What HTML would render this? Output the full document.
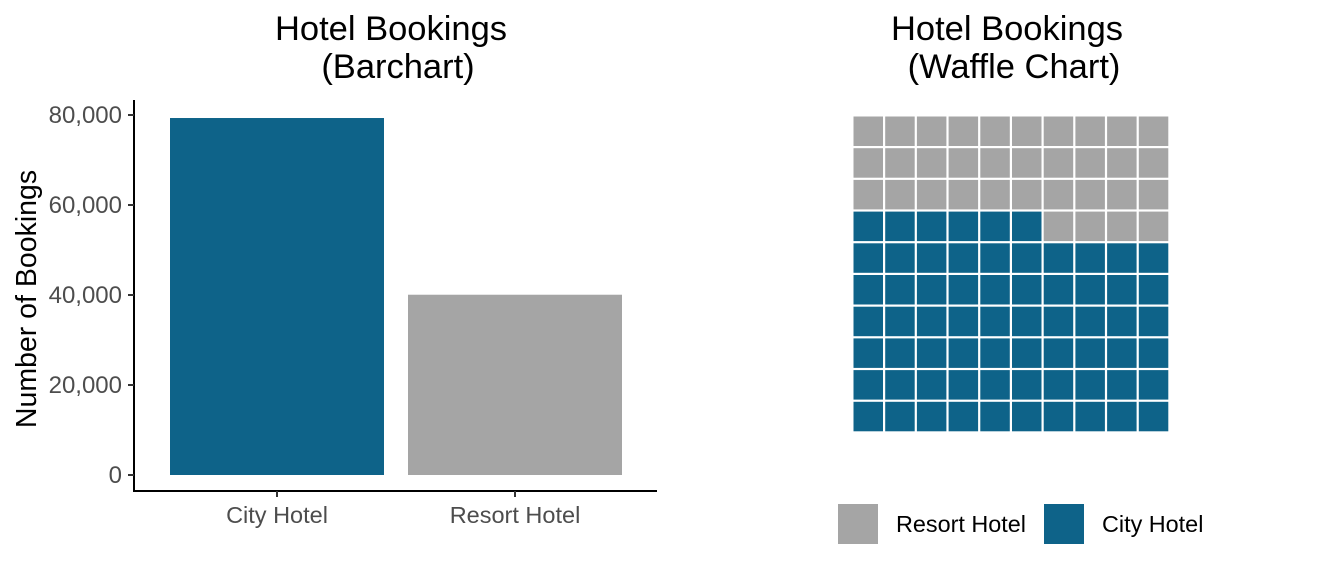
<!DOCTYPE html>
<html><head><meta charset="utf-8"><style>
html,body{margin:0;padding:0;background:#fff;}
svg{display:block;font-family:"Liberation Sans",Arial,sans-serif;}
</style></head><body>
<svg id="chart" width="1344" height="576" viewBox="0 0 1344 576">
<text x="391" y="40" font-size="34.5" text-anchor="middle" fill="#000">Hotel Bookings</text>
<text x="398" y="78" font-size="34.5" text-anchor="middle" fill="#000">(Barchart)</text>
<text x="1007" y="40" font-size="34.5" text-anchor="middle" fill="#000">Hotel Bookings</text>
<text x="1014" y="78" font-size="34.5" text-anchor="middle" fill="#000">(Waffle Chart)</text>
<text transform="translate(36,299) rotate(-90)" font-size="28.5" text-anchor="middle" fill="#000">Number of Bookings</text>
<g id="bars"></g>
<g id="waffle"></g>
<g>
<rect x="838" y="504" width="40" height="40" fill="#a5a5a5"/>
<text x="896" y="532" font-size="23.4" fill="#000">Resort Hotel</text>
<rect x="1044" y="504" width="40" height="40" fill="#0e6389"/>
<text x="1102" y="532" font-size="23.4" fill="#000">City Hotel</text>
</g>
</svg>
<script>
const categories = ["City Hotel", "Resort Hotel"];
const bookings = [79330, 40060];
const barColors = ["#0e6389", "#a5a5a5"];
const yTicks = [0, 20000, 40000, 60000, 80000];
const yTickLabels = ["0", "20,000", "40,000", "60,000", "80,000"];
const waffleCounts = [66, 34];

const NS = "http://www.w3.org/2000/svg";
function mk(tag, attrs, parent){const e=document.createElementNS(NS,tag);for(const k in attrs)e.setAttribute(k,attrs[k]);parent.appendChild(e);return e;}
const y = v => 475 - v / 20000 * 90;
const x0 = 170, band = 238, bw = 214;
const bars = document.getElementById("bars");
let ax = mk("line",{x1:134,y1:100,x2:134,y2:491,stroke:"#000","stroke-width":2},bars);


let bx = mk("line",{x1:133,y1:491,x2:657,y2:491,stroke:"#000","stroke-width":2},bars);


yTicks.forEach((t,i)=>{
  const tk = mk("line",{x1:128,y1:y(t),x2:134,y2:y(t),stroke:"#333","stroke-width":2},bars);
  
  
  const tl = mk("text",{x:122,y:y(t)+8,"font-size":24,"text-anchor":"end",fill:"#4d4d4d"},bars);
  tl.textContent = yTickLabels[i];
  
  
});
categories.forEach((c,i)=>{
  const bx0 = x0 + i*band;
  const r = mk("rect",{x:bx0,y:y(bookings[i]),width:bw,height:y(0)-y(bookings[i]),fill:barColors[i]},bars);
  
  
  const tk = mk("line",{x1:bx0+bw/2,y1:491,x2:bx0+bw/2,y2:497,stroke:"#333","stroke-width":2},bars);
  
  
  const tl = mk("text",{x:bx0+bw/2,y:523,"font-size":23.5,"text-anchor":"middle",fill:"#4d4d4d"},bars);
  tl.textContent = c;
  
  
});
const wf = document.getElementById("waffle");
const gx = 853.5, gy = 116.5, pitch = 31.7, cs = 29.5;
let idx = 0;
for (let row = 9; row >= 0; row--) {
  for (let col = 0; col < 10; col++) {
    const isCity = idx < waffleCounts[0];
    const r = mk("rect",{x:gx+col*pitch,y:gy+row*pitch,width:cs,height:cs,fill:isCity?"#0e6389":"#a5a5a5"},wf);
    
    
    idx++;
  }
}
</script>
</body></html>
